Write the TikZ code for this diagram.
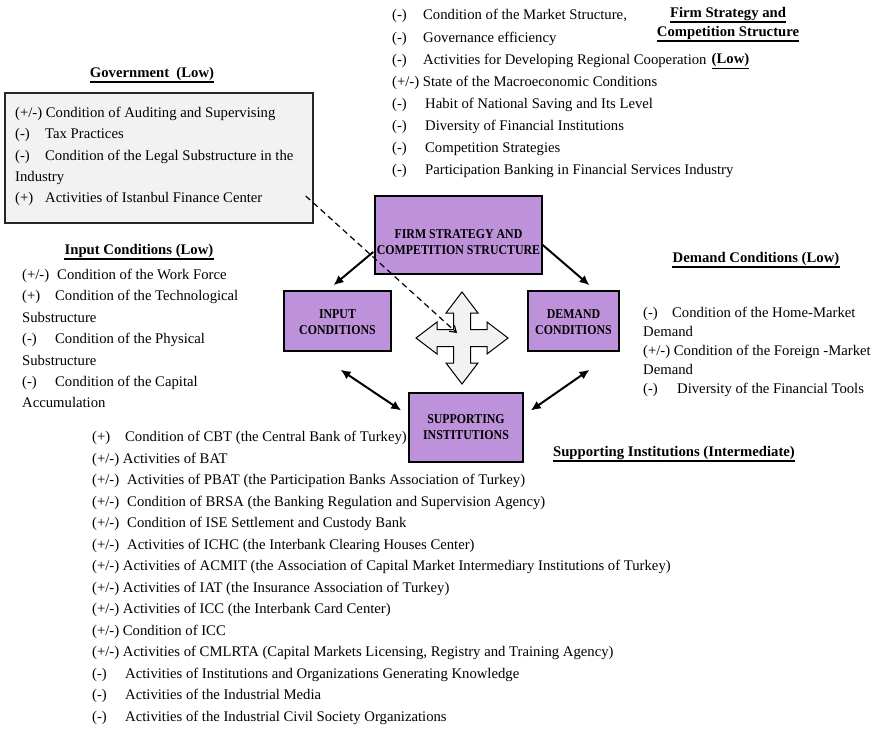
\documentclass[tikz,border=0pt]{standalone}
\usepackage{fontspec}
\setmainfont{Liberation Serif}
\newfontfamily\condfont[FakeStretch=0.88]{Liberation Serif}
\usetikzlibrary{arrows.meta,calc}
\definecolor{boxpurple}{RGB}{190,146,218}
\definecolor{lgray}{RGB}{242,242,242}
\newcommand\mk[2]{\makebox[#1pt][l]{#2}}
\begin{document}
\begin{tikzpicture}[x=1pt,y=-1pt,
  txt/.style={inner sep=0pt, anchor=base west, font=\fontsize{14.7}{17}\selectfont},
  hd/.style={inner sep=0pt, anchor=base, font=\fontsize{14.7}{17}\selectfont\bfseries},
  ul/.style={line width=1.3pt},
  pbox/.style={draw=black, line width=1.5pt, fill=boxpurple, align=center, inner sep=0pt,
    font=\condfont\fontsize{13.5}{16}\selectfont\bfseries},
  bigarrow/.style={line width=2pt, -{Latex[length=10pt,width=9pt]}},
  dblarrow/.style={line width=2pt, {Latex[length=10pt,width=9pt]}-{Latex[length=10pt,width=9pt]}},
  dasharrow/.style={line width=1.2pt, dash pattern=on 6pt off 4pt, -{Straight Barb[length=6pt,width=8pt]}}
]
\useasboundingbox[fill=white] (0,0) rectangle (876,733);

% ---------- headings ----------
\node[hd] (hf1) at (728,17.5) {Firm Strategy and};
\node[hd] (hf2) at (728,36.5) {Competition Structure};
\node[hd] (hf3) at (730.5,64) {(Low)};
\node[hd] (hgov) at (152,77.5) {Government~ (Low)};
\node[hd] (hin) at (139,254.5) {Input Conditions (Low)};
\node[hd] (hdem) at (756,262.5) {Demand Conditions (Low)};
\node[hd] (hsup) at (674,456.5) {Supporting Institutions (Intermediate)};
\foreach \h in {hf1,hf2,hf3,hgov,hin,hdem,hsup}
  \draw[ul] ($(\h.base west)+(0,4.5)$) -- ($(\h.base east)+(0,4.5)$);

% ---------- firm strategy list ----------
\foreach \t [count=\i] in {
  {\mk{31}{(-)}Condition of the Market Structure,},
  {\mk{31}{(-)}Governance efficiency},
  {\mk{31}{(-)}Activities for Developing Regional Cooperation},
  {(+/-) State of the Macroeconomic Conditions},
  {\mk{33}{(-)}Habit of National Saving and Its Level},
  {\mk{33}{(-)}Diversity of Financial Institutions},
  {\mk{33}{(-)}Competition Strategies},
  {\mk{33}{(-)}Participation Banking in Financial Services Industry}}
  \node[txt] (fl\i) at (392,{20+22.1*(\i-1)}) {\t};

% ---------- government box ----------
\node[draw=black!85, line width=1.5pt, fill=lgray, minimum width=308pt,
      minimum height=130pt, inner sep=0pt] (gov) at (159,158) {};
\foreach \t [count=\i] in {
  {(+/-) Condition of Auditing and Supervising},
  {\mk{30}{(-)}Tax Practices},
  {\mk{30}{(-)}Condition of the Legal Substructure in the},
  {Industry},
  {\mk{30}{(+)}Activities of Istanbul Finance Center}}
  \node[txt] (gl\i) at (15,{117.5+21.3*(\i-1)}) {\t};

% ---------- input list ----------
\foreach \t [count=\i] in {
  {\mk{35}{(+/-)}Condition of the Work Force},
  {\mk{33}{(+)}Condition of the Technological},
  {Substructure},
  {\mk{33}{(-)}Condition of the Physical},
  {Substructure},
  {\mk{33}{(-)}Condition of the Capital},
  {Accumulation}}
  \node[txt] (il\i) at (22,{279.5+21.4*(\i-1)}) {\t};

% ---------- demand list ----------
\foreach \t [count=\i] in {
  {\mk{29}{(-)}Condition of the Home-Market},
  {Demand},
  {(+/-) Condition of the Foreign -Market},
  {Demand},
  {\mk{34}{(-)}Diversity of the Financial Tools}}
  \node[txt] (dl\i) at (643,{317+19.1*(\i-1)}) {\t};

% ---------- supporting list ----------
\foreach \t [count=\i] in {
  {\mk{33}{(+)}Condition of CBT (the Central Bank of Turkey)},
  {(+/-) Activities of BAT},
  {\mk{35}{(+/-)}Activities of PBAT (the Participation Banks Association of Turkey)},
  {\mk{35}{(+/-)}Condition of BRSA (the Banking Regulation and Supervision Agency)},
  {\mk{35}{(+/-)}Condition of ISE Settlement and Custody Bank},
  {\mk{35}{(+/-)}Activities of ICHC (the Interbank Clearing Houses Center)},
  {(+/-) Activities of ACMIT (the Association of Capital Market Intermediary Institutions of Turkey)},
  {(+/-) Activities of IAT (the Insurance Association of Turkey)},
  {(+/-) Activities of ICC (the Interbank Card Center)},
  {(+/-) Condition of ICC},
  {(+/-) Activities of CMLRTA (Capital Markets Licensing, Registry and Training Agency)},
  {\mk{33}{(-)}Activities of Institutions and Organizations Generating Knowledge},
  {\mk{33}{(-)}Activities of the Industrial Media},
  {\mk{33}{(-)}Activities of the Industrial Civil Society Organizations}}
  \node[txt] (sl\i) at (92,{441.5+21.54*(\i-1)}) {\t};

% ---------- diamond boxes ----------
\node[pbox, minimum width=167pt, minimum height=78pt] (firm) at (458.5,235)
  {\rule{0pt}{24pt}FIRM STRATEGY AND\\COMPETITION STRUCTURE};
\node[pbox, minimum width=107pt, minimum height=60pt] (input) at (337.5,321)
  {\rule{0pt}{12pt}INPUT\\CONDITIONS};
\node[pbox, minimum width=91pt, minimum height=60pt] (demand) at (573.5,321)
  {\rule{0pt}{12pt}DEMAND\\CONDITIONS};
\node[pbox, minimum width=114pt, minimum height=69pt] (supp) at (466,427.5)
  {SUPPORTING\\INSTITUTIONS};

% ---------- four-way arrow ----------
\coordinate (cc) at (462,338);
\draw[shift={(cc)}, fill=lgray, line width=1pt, line join=miter]
  (-8.5,-25) -- (-16,-25) -- (0,-46) -- (16,-25) -- (8.5,-25) -- (8.5,-8.5)
  -- (25,-8.5) -- (25,-16) -- (46,0) -- (25,16) -- (25,8.5) -- (8.5,8.5)
  -- (8.5,25) -- (16,25) -- (0,46) -- (-16,25) -- (-8.5,25) -- (-8.5,8.5)
  -- (-25,8.5) -- (-25,16) -- (-46,0) -- (-25,-16) -- (-25,-8.5) -- (-8.5,-8.5) -- cycle;

% ---------- connectors ----------
\draw[bigarrow] ($(firm.west)+(-1,17)$) -- ($(input.north)+(-4,-5)$);
\draw[bigarrow] ($(firm.east)+(0,10)$) -- ($(demand.north)+(16,-5)$);
\draw[dblarrow] ($(input.south)+(3,18)$) -- ($(supp.west)+(-7,-17)$);
\draw[dblarrow] ($(demand.south)+(16,18)$) -- ($(supp.east)+(7,-17)$);
\draw[dasharrow] ($(gov.east)+(-8,38)$) -- ($(cc)+(-5,-5)$);
\end{tikzpicture}
\end{document}
